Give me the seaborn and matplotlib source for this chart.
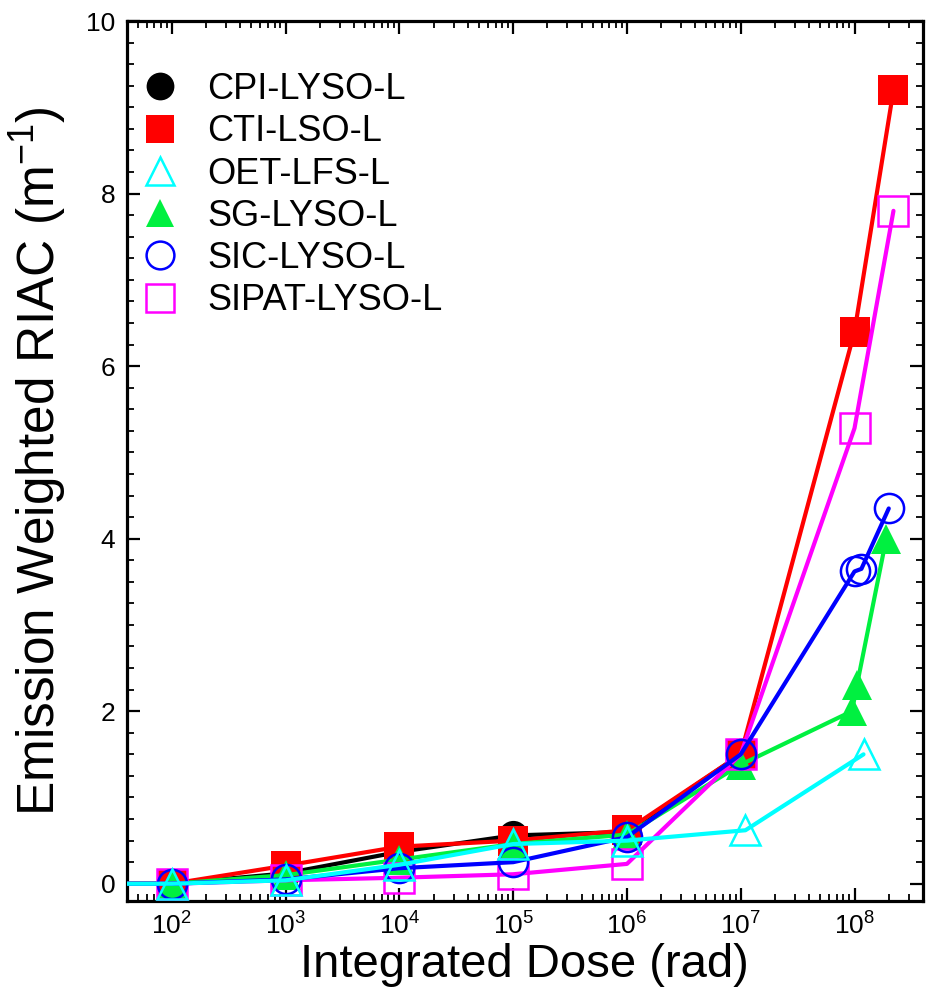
"""Emission weighted RIAC versus integrated dose."""

import matplotlib.pyplot as plt
import matplotlib.ticker as mticker
import numpy as np
import pandas as pd
import seaborn as sns
from matplotlib.lines import Line2D

sns.set_theme(style="ticks")
plt.rcParams["font.family"] = ["Liberation Sans", "DejaVu Sans"]
plt.rcParams["mathtext.default"] = "regular"
plt.rcParams["text.color"] = "black"
plt.rcParams["axes.labelcolor"] = "black"

# ---- data ----
cpi_dose = [10, 1e2, 1e3, 1e4, 1e5, 1e6, 1e7]
cpi_riac = [0, 0, 0.12, 0.37, 0.56, 0.60, 1.50]

cti_dose = [10, 1e2, 1e3, 1e4, 1e5, 1e6, 1e7, 1e8, 2.2e8]
cti_riac = [0, 0, 0.21, 0.43, 0.50, 0.62, 1.50, 6.40, 9.20]

oet_dose = [10, 1e2, 1e3, 1e4, 1e5, 1e6, 1.1e7, 1.2e8]
oet_riac = [0, 0, 0.04, 0.22, 0.46, 0.50, 0.62, 1.50]

sg_dose = [10, 1e2, 1e3, 1e4, 1e5, 1e6, 1e7, 0.95e8, 1.05e8, 1.9e8]
sg_riac = [0, 0, 0.10, 0.28, 0.46, 0.57, 1.38, 2.00, 2.30, 4.00]

sic_dose = [10, 1e2, 1e3, 1e4, 1e5, 1e6, 1e7, 1e8, 1.15e8, 2e8]
sic_riac = [0, 0, 0.05, 0.18, 0.25, 0.54, 1.50, 3.62, 3.65, 4.35]

sipat_dose = [10, 1e2, 1e3, 1e4, 1e5, 1e6, 1e7, 1e8, 2.2e8]
sipat_riac = [0, 0, 0.04, 0.07, 0.11, 0.23, 1.50, 5.28, 7.80]

labels = ["CPI-LYSO-L", "CTI-LSO-L", "OET-LFS-L", "SG-LYSO-L", "SIC-LYSO-L", "SIPAT-LYSO-L"]
colors = ["#000000", "#ff0000", "#00ffff", "#00f040", "#0000ff", "#ff00ff"]
markers = ["o", "s", "^", "^", "o", "s"]
filled = [True, True, False, True, False, False]
series = [
    (cpi_dose, cpi_riac),
    (cti_dose, cti_riac),
    (oet_dose, oet_riac),
    (sg_dose, sg_riac),
    (sic_dose, sic_riac),
    (sipat_dose, sipat_riac),
]
zorders = [2, 3, 8, 4, 6, 5]

fig = plt.figure(figsize=(9.33, 10.01), dpi=100)
ax = fig.add_axes([0.1356, 0.0999, 0.8537, 0.8791])

for (dose, riac), lab, col, mk, fl, zo in zip(series, labels, colors, markers, filled, zorders):
    df = pd.DataFrame({"dose": dose, "riac": riac})
    sns.lineplot(
        data=df, x="dose", y="riac", ax=ax, sort=False, estimator=None,
        color=col, lw=3, marker=mk, markersize=21,
        markerfacecolor=col if fl else "none", markeredgecolor=col,
        markeredgewidth=0 if fl else 1.8, zorder=zo,
    )

ax.set_xscale("log")
ax.set_xlim(40, 4e8)
ax.set_ylim(-0.2, 10)
ax.xaxis.set_major_locator(mticker.LogLocator(base=10, numticks=20))
ax.xaxis.set_minor_locator(mticker.LogLocator(base=10, subs=np.arange(2, 10), numticks=20))
ax.xaxis.set_minor_formatter(mticker.NullFormatter())
ax.yaxis.set_major_locator(mticker.MultipleLocator(2))
ax.yaxis.set_minor_locator(mticker.MultipleLocator(0.25))

ax.tick_params(which="both", direction="in", top=True, right=True, colors="black",
               labelcolor="black", labelsize=19, pad=8)
ax.tick_params(which="major", length=9.5, width=1.6)
ax.tick_params(which="minor", length=5, width=1.3)
for sp in ax.spines.values():
    sp.set_linewidth(2.3)
    sp.set_color("black")
ax.grid(False)

ax.set_xlabel("Integrated Dose (rad)", fontsize=34, labelpad=3)
ax.set_ylabel("Emission Weighted RIAC (m$^{-1}$)", fontsize=37, labelpad=12)

handles = [
    Line2D([], [], ls="none", marker=mk, markersize=20, color=col,
           markerfacecolor=col if fl else "none", markeredgecolor=col,
           markeredgewidth=0 if fl else 1.8)
    for col, mk, fl in zip(colors, markers, filled)
]
ax.legend(handles, labels, loc="upper left", bbox_to_anchor=(0.015, 0.942),
          frameon=False, fontsize=26, handlelength=1.2, handletextpad=0.7,
          labelspacing=0.2, borderpad=0, borderaxespad=0)

fig.savefig("out.png", dpi=100)
